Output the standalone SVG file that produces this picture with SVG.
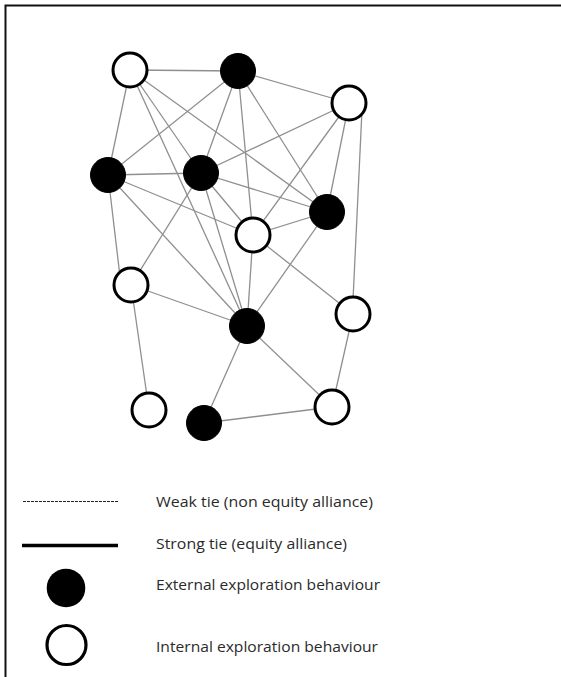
<svg xmlns="http://www.w3.org/2000/svg" width="561" height="677" viewBox="0 0 561 677">
<style>
.e{stroke:#8f8f8f;stroke-width:1.3;fill:none}
.w{fill:#fff;stroke:#000;stroke-width:3}
.b{fill:#000;stroke:#000;stroke-width:1}
.t{font-family:"Open Sans","DejaVu Sans",sans-serif;font-size:14px;fill:#2a2a2a}
</style>
<rect x="0" y="0" width="561" height="677" fill="#fff"/>
<path d="M5.5 677 V5.5 H561" fill="none" stroke="#111" stroke-width="2"/>
<g id="connectors">
<line class="e" x1="130" y1="70" x2="238" y2="71"/>
<line class="e" x1="130" y1="70" x2="108" y2="175"/>
<line class="e" x1="130" y1="70" x2="201" y2="173"/>
<line class="e" x1="130" y1="70" x2="327" y2="212"/>
<line class="e" x1="130" y1="70" x2="247" y2="326"/>
<line class="e" x1="238" y1="71" x2="349" y2="103"/>
<line class="e" x1="238" y1="71" x2="108" y2="175"/>
<line class="e" x1="238" y1="71" x2="201" y2="173"/>
<line class="e" x1="238" y1="71" x2="327" y2="212"/>
<line class="e" x1="238" y1="71" x2="253" y2="235"/>
<line class="e" x1="349" y1="103" x2="201" y2="173"/>
<line class="e" x1="349" y1="103" x2="327" y2="212"/>
<line class="e" x1="349" y1="103" x2="253" y2="235"/>
<line class="e" x1="362" y1="110" x2="353" y2="300"/>
<line class="e" x1="108" y1="175" x2="201" y2="173"/>
<line class="e" x1="108" y1="175" x2="253" y2="235"/>
<line class="e" x1="108" y1="175" x2="121" y2="285"/>
<line class="e" x1="108" y1="175" x2="247" y2="326"/>
<line class="e" x1="201" y1="173" x2="327" y2="212"/>
<line class="e" x1="201" y1="173" x2="253" y2="235"/>
<line class="e" x1="201" y1="173" x2="131" y2="285"/>
<line class="e" x1="201" y1="173" x2="247" y2="326"/>
<line class="e" x1="327" y1="212" x2="253" y2="235"/>
<line class="e" x1="327" y1="212" x2="247" y2="326"/>
<line class="e" x1="253" y1="235" x2="247" y2="326"/>
<line class="e" x1="253" y1="235" x2="353" y2="314"/>
<line class="e" x1="131" y1="285" x2="247" y2="326"/>
<line class="e" x1="131" y1="285" x2="149" y2="410"/>
<line class="e" x1="247" y1="326" x2="204" y2="423"/>
<line class="e" x1="247" y1="326" x2="332" y2="407"/>
<line class="e" x1="353" y1="314" x2="332" y2="407"/>
<line class="e" x1="204" y1="423" x2="332" y2="407"/>
</g>
<g id="nA"><circle class="w" cx="130" cy="70" r="17"/></g>
<g id="nB"><circle class="b" cx="238" cy="71" r="17.5"/></g>
<g id="nC"><circle class="w" cx="349" cy="103" r="17"/></g>
<g id="nD"><circle class="b" cx="108" cy="175" r="17.5"/></g>
<g id="nE"><circle class="b" cx="201" cy="173" r="17.5"/></g>
<g id="nF"><circle class="b" cx="327" cy="212" r="17.5"/></g>
<g id="nG"><circle class="w" cx="253" cy="235" r="17"/></g>
<g id="nH"><circle class="w" cx="131" cy="285" r="17"/></g>
<g id="nI"><circle class="b" cx="247" cy="326" r="17.5"/></g>
<g id="nJ"><circle class="w" cx="353" cy="314" r="17"/></g>
<g id="nK"><circle class="w" cx="149" cy="410" r="17"/></g>
<g id="nL"><circle class="b" cx="204" cy="423" r="17.5"/></g>
<g id="nM"><circle class="w" cx="332" cy="407" r="17"/></g>
<g id="legend">
<line x1="23" y1="501.5" x2="119" y2="501.5" stroke="#222" stroke-width="1" stroke-dasharray="3 1"/>
<line x1="22" y1="545.5" x2="118" y2="545.5" stroke="#000" stroke-width="3.5"/>
<circle cx="66" cy="588" r="19.3" fill="#000"/>
<circle cx="66.5" cy="645" r="19.5" fill="#fff" stroke="#000" stroke-width="3.2"/>
<text class="t" x="156" y="507" textLength="217" lengthAdjust="spacingAndGlyphs">Weak tie (non equity alliance)</text>
<text class="t" x="156" y="549" textLength="191" lengthAdjust="spacingAndGlyphs">Strong tie (equity alliance)</text>
<text class="t" x="156" y="590" textLength="224" lengthAdjust="spacingAndGlyphs">External exploration behaviour</text>
<text class="t" x="156" y="652" textLength="222" lengthAdjust="spacingAndGlyphs">Internal exploration behaviour</text>
</g>
</svg>
